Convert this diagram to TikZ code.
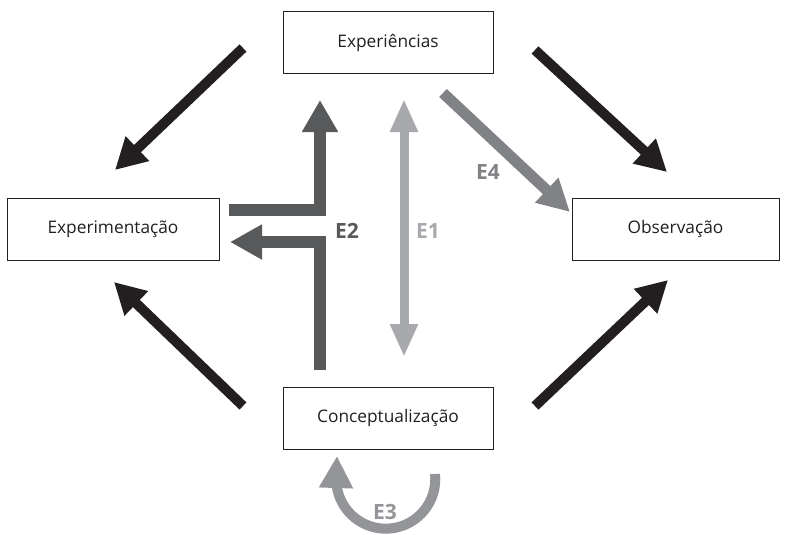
\documentclass[tikz,border=0pt]{standalone}
\usepackage{fontspec}
\setmainfont{Open Sans}
\usetikzlibrary{arrows.meta}
\definecolor{cblack}{HTML}{231F20}
\definecolor{cdark}{HTML}{58595B}
\definecolor{clight}{HTML}{A7A9AC}
\definecolor{cmid}{HTML}{808285}
\definecolor{cthree}{HTML}{939598}
\tikzset{
  box/.style={draw=cblack, line width=1pt, minimum width=#1, minimum height=62pt, inner sep=0pt, font=\fontsize{17.3}{20}\selectfont, text=cblack},
  box/.default=210pt,
  bigarrow/.style={line width=10pt, color=cblack, -{Triangle[length=31pt,width=32pt]}},
  lbl/.style={font=\fontsize{21}{25}\selectfont\bfseries},
}
\begin{document}
\begin{tikzpicture}[x=1pt,y=-1pt]
\useasboundingbox (0,0) rectangle (787,535);
\fill[white] (0,0) rectangle (787,535);
% boxes
\node[box=210pt] (exp) at (388,43) {Experiências};
\node[box=212pt] (expm) at (113,229) {Experimentação};
\node[box=207pt] (obs) at (675.5,229) {Observação};
\node[box=210pt] (con) at (388,418) {Conceptualização};
% black arrows
\coordinate (a1s) at (243,48);  \coordinate (a1e) at (115,170);
\coordinate (a2s) at (535,50);  \coordinate (a2e) at (667,172);
\coordinate (a3s) at (243,406); \coordinate (a3e) at (114,282);
\coordinate (a4s) at (535,406); \coordinate (a4e) at (668,280);
\draw[bigarrow] (a1s) -- (a1e);
\draw[bigarrow] (a2s) -- (a2e);
\draw[bigarrow] (a3s) -- (a3e);
\draw[bigarrow] (a4s) -- (a4e);
% E2
\coordinate (e2a) at (229,210); \coordinate (e2b) at (320,100);
\coordinate (e2c) at (320,370); \coordinate (e2d) at (230,242);
\draw[cdark, line width=12pt, miter limit=10, -{Triangle[length=32pt,width=34pt]}] (e2a) -| (e2b);
\draw[cdark, line width=12pt, miter limit=10, -{Triangle[length=32pt,width=33pt]}] (e2c) |- (e2d);
\node[lbl, text=cdark] (l2) at (347,231) {E2};
% E1
\coordinate (e1a) at (404,99); \coordinate (e1b) at (404,357);
\draw[clight, line width=9pt, {Triangle[length=33pt,width=26pt]}-{Triangle[length=33pt,width=26pt]}] (e1a) -- (e1b);
\node[lbl, text=clight] (l1) at (428,231) {E1};
% E4
\coordinate (e4a) at (443,93); \coordinate (e4b) at (570,212);
\draw[cmid, line width=11pt, -{Triangle[length=32pt,width=32pt]}] (e4a) -- (e4b);
\node[lbl, text=cmid] (l4) at (488,172) {E4};
% E3
\coordinate (e3a) at (435,474); \coordinate (e3b) at (337,456);
\draw[cthree, line width=10pt, -{Triangle[length=32pt,width=32pt]}] (e3a) arc[start angle=-6, end angle=180, radius=49.5] -- (e3b);
\node[lbl, text=cthree] (l3) at (385,512) {E3};
\end{tikzpicture}
\end{document}
